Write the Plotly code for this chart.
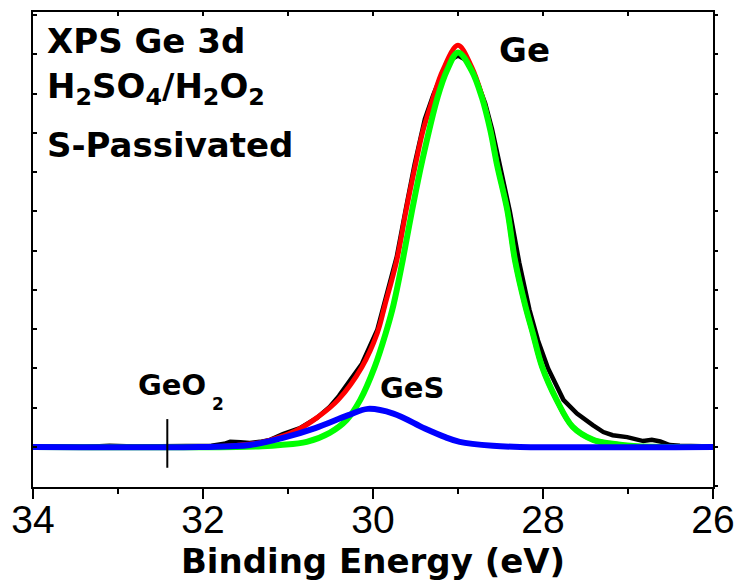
import plotly.graph_objects as go

# Measured Ge 3d spectrum (binding energy in eV, intensity in arb. units, background removed)
be_data = [34.0, 33.7, 33.4, 33.1, 32.8, 32.5, 32.2, 31.9, 31.75, 31.68, 31.56, 31.45,
           31.33, 31.21, 31.06, 30.86, 30.66, 30.51, 30.40, 30.27, 30.13, 29.95, 29.86,
           29.72, 29.61, 29.51, 29.39, 29.29, 29.18, 29.10, 29.00, 28.91, 28.80, 28.68,
           28.60, 28.51, 28.39, 28.28, 28.16, 28.06, 27.94, 27.76, 27.60, 27.41, 27.29,
           27.18, 27.01, 26.82, 26.72, 26.62, 26.51, 26.39, 26.2, 26.0]
int_data = [0.01, 0.02, 0.0, 0.03, 0.01, 0.02, 0.01, 0.03, 0.08, 0.13, 0.12, 0.10,
            0.13, 0.18, 0.33, 0.48, 0.74, 1.02, 1.30, 1.70, 2.12, 2.98, 3.70,
            4.85, 6.10, 7.20, 8.35, 8.97, 9.55, 9.85, 9.97, 9.86, 9.45, 8.75,
            8.10, 7.20, 6.00, 4.70, 3.50, 2.72, 2.00, 1.20, 0.85, 0.55, 0.38,
            0.30, 0.25, 0.15, 0.18, 0.14, 0.05, 0.03, 0.01, 0.01]

# Total fit envelope
be_fit = [34.0, 32.0, 31.6, 31.3, 31.06, 30.89, 30.65, 30.41, 30.13, 29.95, 29.86,
          29.72, 29.61, 29.49, 29.41, 29.29, 29.18, 29.00, 28.84, 28.72, 28.62, 28.54,
          28.42, 28.33, 28.21, 28.12, 28.01, 27.84, 27.65, 27.41, 27.18, 26.9, 26.0]
int_fit = [0.0, 0.0, 0.04, 0.12, 0.28, 0.43, 0.76, 1.20, 2.04, 2.90, 3.61,
           4.76, 6.03, 7.30, 8.07, 8.91, 9.59, 10.23, 9.68, 8.96, 8.10, 7.20,
           6.04, 4.77, 3.61, 2.90, 2.04, 1.20, 0.51, 0.18, 0.08, 0.02, 0.0]

# Ge (bulk) component
be_ge = [34.0, 31.6, 31.3, 31.09, 30.78, 30.51, 30.31, 30.15, 29.98, 29.85, 29.76,
         29.65, 29.54, 29.42, 29.24, 29.13, 29.00, 28.84, 28.72, 28.62, 28.54, 28.42,
         28.33, 28.21, 28.12, 28.01, 27.84, 27.65, 27.41, 27.18, 26.9, 26.0]
int_ge = [0.0, 0.0, 0.02, 0.05, 0.13, 0.36, 0.69, 1.20, 2.04, 2.90, 3.61,
          4.76, 6.03, 7.30, 8.91, 9.59, 10.05, 9.59, 8.91, 8.07, 7.18, 6.03,
          4.76, 3.61, 2.90, 2.04, 1.20, 0.51, 0.18, 0.08, 0.02, 0.0]

# GeS component
be_ges = [34.0, 32.04, 31.68, 31.45, 31.06, 30.68, 30.29, 30.06, 29.76, 29.39,
          29.15, 28.98, 28.59, 28.27, 26.0]
int_ges = [0.0, 0.0, 0.02, 0.05, 0.23, 0.48, 0.81, 0.97, 0.85, 0.47,
           0.25, 0.13, 0.03, 0.0, 0.0]

# Expected GeO2 position marker
geo2_be = 32.42
geo2_span = [-0.53, 0.71]

x_ticks = [34, 32, 30, 28, 26]
x_range = [34, 26]
y_range = [-1.02, 11.08]

BOLD = "DejaVu Sans"
fig = go.Figure()

fig.add_trace(go.Scatter(x=be_data, y=int_data, mode="lines",
                         line=dict(color="#000000", width=4.5), showlegend=False))
fig.add_trace(go.Scatter(x=be_fit, y=int_fit, mode="lines",
                         line=dict(color="#ff0000", width=5, shape="spline", smoothing=1.0),
                         showlegend=False))
fig.add_trace(go.Scatter(x=be_ge, y=int_ge, mode="lines",
                         line=dict(color="#00ff00", width=6, shape="spline", smoothing=1.0),
                         showlegend=False))
fig.add_trace(go.Scatter(x=be_ges, y=int_ges, mode="lines",
                         line=dict(color="#0000ff", width=6, shape="spline", smoothing=1.0),
                         showlegend=False))
fig.add_trace(go.Scatter(x=[geo2_be, geo2_be], y=geo2_span, mode="lines",
                         line=dict(color="#000000", width=2), showlegend=False))
# empty trace so the mirrored top/right axes get drawn
fig.add_trace(go.Scatter(x=[None], y=[None], xaxis="x2", yaxis="y2",
                         showlegend=False, hoverinfo="skip"))


def px_to_paper(px, py):
    return (px - 33) / 680, (487 - py) / 475


def label(text, px, py, size, anchor="left"):
    xp, yp = px_to_paper(px, py)
    fig.add_annotation(text=text, x=xp, y=yp, xref="paper", yref="paper",
                       xanchor=anchor, yanchor="middle", showarrow=False,
                       font=dict(family=BOLD, size=size, color="#000000", weight="bold"))


label("XPS Ge 3d", 45, 40.5, 34)
label("H<sub>2</sub>SO<sub>4</sub>/H<sub>2</sub>O<sub>2</sub>", 45, 88, 34)
label("S-Passivated", 45, 144.5, 34)
label("Ge", 524, 49.5, 34, anchor="center")
label("GeS", 412, 388, 29, anchor="center")
label("GeO", 172, 384.5, 29, anchor="center")
label("2", 218, 404, 17, anchor="center")

fig.update_layout(
    width=737, height=584, autosize=False,
    margin=dict(l=33, r=24, t=12, b=97),
    plot_bgcolor="#ffffff", paper_bgcolor="#ffffff",
    xaxis=dict(range=x_range, tickmode="array", tickvals=x_ticks,
               ticktext=[str(v) for v in x_ticks], automargin=False,
               ticks="outside", ticklen=10, tickwidth=2, tickcolor="#000000",
               ticklabelstandoff=-13,
               minor=dict(dtick=1, tick0=0, ticks="outside", ticklen=5, tickwidth=2,
                          tickcolor="#000000", showgrid=False),
               showline=True, linewidth=2, linecolor="#000000",
               showgrid=False, zeroline=False,
               tickfont=dict(family="Liberation Sans, Arial", size=39, color="#000000"),
               title=dict(text="Binding Energy (eV)", standoff=5,
                          font=dict(family=BOLD, size=34, color="#000000", weight="bold"))),
    yaxis=dict(range=y_range, tick0=0, dtick=1, ticks="inside", ticklen=4, tickwidth=1.5,
               tickcolor="#000000", showticklabels=False, automargin=False,
               showline=True, linewidth=2, linecolor="#000000",
               showgrid=False, zeroline=False),
    xaxis2=dict(range=x_range, overlaying="x", side="top", anchor="y2", automargin=False,
                tick0=0, dtick=1, ticks="inside", ticklen=4, tickwidth=1.5,
                tickcolor="#000000", showticklabels=False,
                showline=True, linewidth=2, linecolor="#000000",
                showgrid=False, zeroline=False),
    yaxis2=dict(range=y_range, overlaying="y", side="right", anchor="x2", automargin=False,
                tick0=0, dtick=1, ticks="outside", ticklen=3, tickwidth=1.5,
                tickcolor="#000000", showticklabels=False,
                showline=True, linewidth=2, linecolor="#000000",
                showgrid=False, zeroline=False),
)

fig.write_html("out.html")
